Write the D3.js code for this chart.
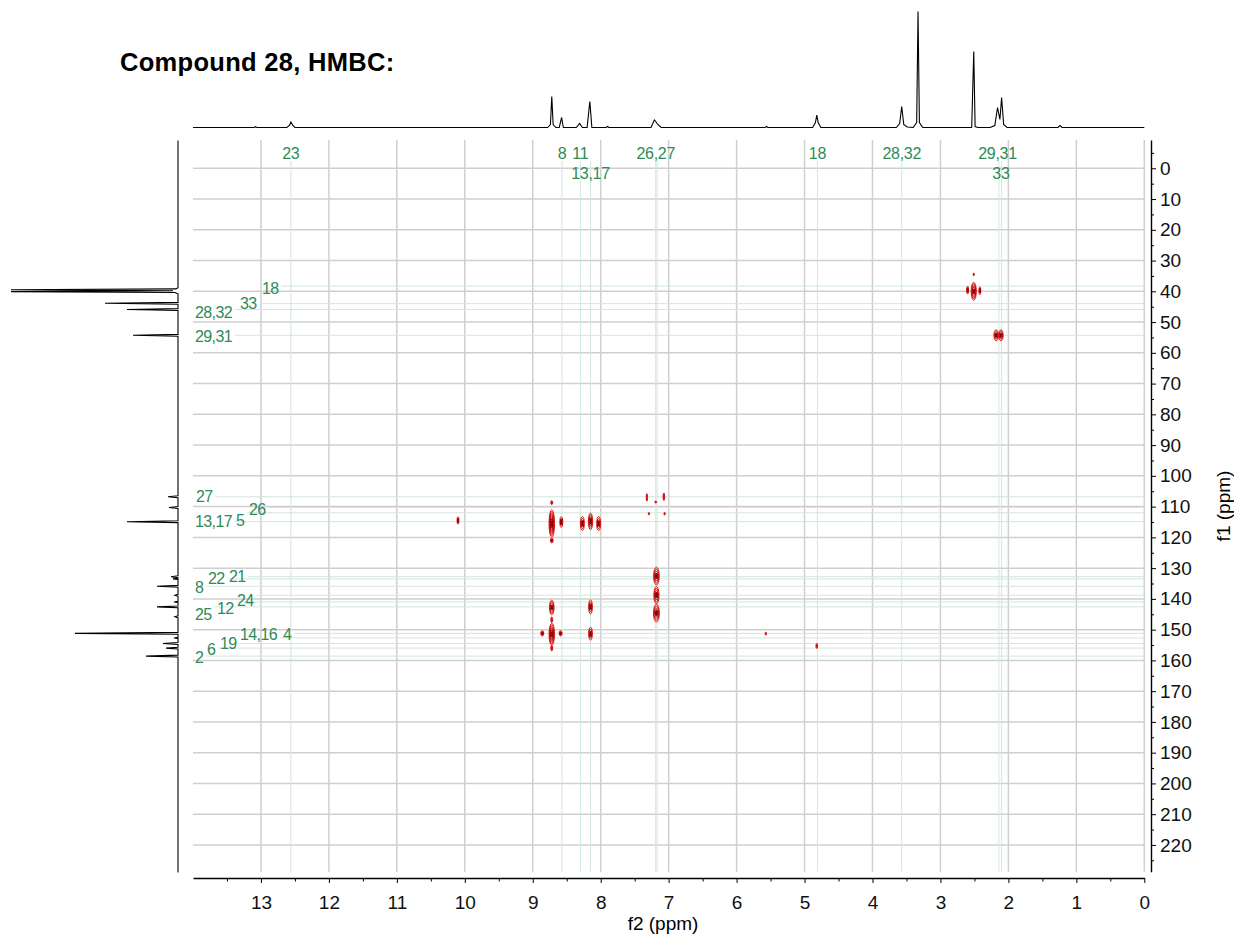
<!DOCTYPE html>
<html>
<head>
<meta charset="utf-8">
<script src="https://cdn.jsdelivr.net/npm/d3@7"></script>
<style>
  body { margin: 0; background: #fff; }
  svg { display: block; font-family: "Liberation Sans", Arial, sans-serif; }
</style>
</head>
<body>
<svg id="hmbc" width="1234" height="936"></svg>
<script>
// 1H trace along f2, [ppm, height]
var protonTrace = [
    [14, 0], [13.10, 0], [13.08, 0.8], [13.06, 0],
    [12.62, 0], [12.58, 2], [12.56, 5.5], [12.53, 2], [12.50, 0],
    [8.78, 0], [8.74, 3], [8.72, 31], [8.70, 3], [8.66, 0],
    [8.61, 0], [8.575, 10], [8.55, 0],
    [8.36, 0], [8.31, 4], [8.27, 0],
    [8.20, 0], [8.16, 26], [8.13, 0],
    [7.92, 0], [7.90, 1], [7.88, 0],
    [7.26, 0], [7.21, 7.5], [7.19, 6], [7.16, 3], [7.11, 0],
    [5.58, 0], [5.56, 1], [5.54, 0],
    [4.88, 0], [4.84, 5], [4.82, 12.5], [4.80, 5], [4.76, 0],
    [3.65, 0], [3.60, 4], [3.57, 21], [3.54, 3], [3.49, 0.5],
    [3.40, 0], [3.35, 5], [3.33, 116], [3.31, 5], [3.26, 0],
    [2.54, 0], [2.51, 76], [2.49, 1], [2.45, 0],
    [2.27, 0], [2.20, 2], [2.16, 20], [2.125, 8], [2.10, 30], [2.07, 3], [2.02, 0],
    [1.27, 0], [1.24, 2], [1.21, 0],
    [0, 0]
];

// 13C trace along f1, [ppm, height]
var carbonTrace = [
    [-9, 0], [38.8, 0], [39.2, 2], [39.5, 167], [39.8, 5], [40.1, 167], [40.4, 3], [40.8, 0],
    [43.6, 0], [43.9, 73], [44.2, 0],
    [45.6, 0], [45.9, 51], [46.2, 0],
    [54.0, 0], [54.3, 45], [54.6, 0],
    [106.5, 0], [106.8, 10], [107.1, 0],
    [110.0, 0], [110.3, 9], [110.6, 0],
    [114.6, 0], [114.9, 51], [115.2, 0],
    [132.5, 0], [132.8, 7], [133.1, 0],
    [133.3, 0], [133.5, 5], [133.7, 0],
    [135.6, 0], [135.9, 21], [136.2, 0],
    [138.5, 0], [138.8, 3], [139.1, 0],
    [140.8, 0], [141.0, 4], [141.2, 0],
    [142.3, 0], [142.6, 21], [142.9, 0],
    [145.5, 0], [145.8, 3], [146.1, 0],
    [150.9, 0], [151.2, 103], [151.5, 0],
    [152.5, 0], [152.7, 4], [152.9, 0],
    [154.2, 0], [154.5, 15], [154.8, 0],
    [155.7, 0], [156.0, 12], [156.3, 0],
    [158.3, 0], [158.6, 32], [158.9, 0],
    [229, 0]
];

// HMBC cross peaks: f2 shift, f1 shift, half width (ppm f2), half height (ppm f1), contour levels
var crossH  = [10.10, 8.72, 8.72, 8.72, 8.58, 8.27, 8.15, 8.03, 7.32, 7.19, 7.07, 7.29, 7.06,
               7.18, 7.18, 7.18, 8.72, 8.15, 8.72, 8.72, 8.72, 8.86, 8.59, 8.15, 5.57, 4.82,
               2.51, 2.51, 2.60, 2.42, 2.18, 2.11];
var crossC  = [114.5, 115.5, 108.7, 121.0, 115.0, 115.5, 114.8, 115.5, 107.0, 108.5, 106.8, 112.3, 112.3,
               132.6, 138.8, 144.6, 142.8, 142.6, 151.5, 146.8, 156.0, 151.2, 151.2, 151.3, 151.3, 155.3,
               34.5, 40.0, 39.6, 39.8, 54.3, 54.3];
var crossW  = [0.014, 0.04, 0.015, 0.02, 0.022, 0.03, 0.032, 0.03, 0.01, 0.014, 0.012, 0.01, 0.01,
               0.042, 0.038, 0.044, 0.034, 0.028, 0.04, 0.014, 0.014, 0.022, 0.022, 0.028, 0.01, 0.012,
               0.01, 0.038, 0.014, 0.014, 0.034, 0.034];
var crossHt = [1.2, 4.5, 0.6, 0.8, 1.8, 2.3, 2.7, 2.3, 1.2, 0.3, 1.2, 0.4, 0.4,
               2.9, 2.8, 2.9, 2.4, 2.3, 3.6, 0.9, 0.9, 0.9, 0.9, 2.1, 0.5, 0.8,
               0.4, 2.9, 1.3, 1.3, 1.8, 1.8];
var crossLv = [2, 7, 1, 2, 2, 3, 4, 3, 1, 1, 1, 1, 1,
               4, 4, 4, 4, 3, 6, 1, 1, 2, 2, 3, 1, 1,
               1, 5, 2, 2, 3, 3];

// assignments along f2 (top)
var hLabels = ["23", "8", "11", "13,17", "26,27", "18", "28,32", "29,31", "33"];
var hShift  = [12.56, 8.57, 8.30, 8.15, 7.19, 4.81, 3.57, 2.16, 2.11];
var hRow    = [0, 0, 0, 1, 0, 0, 0, 0, 1];
var hGuides = [12.56, 8.57, 8.30, 8.15, 7.19, 7.17, 4.81, 3.57, 2.14, 2.10];

// assignments along f1 (left)
var cLabels = ["18", "33", "28,32", "29,31", "27", "26", "5", "13,17", "21", "22", "8",
               "24", "12", "25", "4", "14,16", "19", "6", "2"];
var cShift  = [38.3, 44.0, 45.9, 54.3, 106.8, 110.3, 112.0, 114.9, 132.8, 133.5, 135.9,
               138.8, 141.0, 142.6, 151.2, 152.7, 154.5, 156.0, 158.6];

var f2Ticks = d3.range(0, 14);
var f1Ticks = d3.range(0, 221, 10);

// label nudges [dx from plot left, dy from shift], px
var cLabelNudge = [[69, 2], [47, 0], [2, 3], [2, 1], [3, 0], [56, 2], [43, 8], [2, 0], [36, 0], [15, 0], [2, 1],
                   [44, 5], [24, 6], [2, 8], [90, 1], [47, -4], [27, 0], [14, 1], [2, 1]];

var plot = { left: 193, right: 1144.3, top: 140, bottom: 871.7 };
var green = "#2e8b57";
var gridColor = "#cfcfcf";
var guideColor = "#d2e6dc";

var svg = d3.select("#hmbc");

var x = d3.scaleLinear().domain([14, 0]).range([plot.left, plot.right]);
var y = d3.scaleLinear().domain([-9.2, 228.7]).range([plot.top, plot.bottom]);
var topY = d3.scaleLinear().domain([0, 118]).range([127.5, 9.5]);
var leftX = d3.scaleLinear().domain([0, 168]).range([178, 10]);

// title
svg.append("text")
    .attr("x", 120)
    .attr("y", 70.5)
    .style("font-size", "25.5px")
    .style("font-weight", "bold")
    .style("letter-spacing", "0.3px")
    .text("Compound 28, HMBC:");

// grid
svg.append("g").selectAll("line")
    .data(d3.range(0, 14))
    .enter().append("line")
    .attr("x1", d => x(d)).attr("x2", d => x(d))
    .attr("y1", plot.top).attr("y2", plot.bottom)
    .attr("stroke", gridColor).attr("stroke-width", 1.5);

svg.append("g").selectAll("line")
    .data(f1Ticks)
    .enter().append("line")
    .attr("x1", plot.left).attr("x2", plot.right)
    .attr("y1", d => y(d)).attr("y2", d => y(d))
    .attr("stroke", gridColor).attr("stroke-width", 1.5);

// vertical guides for top assignments
svg.append("g").selectAll("line")
    .data(hGuides)
    .enter().append("line")
    .attr("x1", d => x(d)).attr("x2", d => x(d))
    .attr("y1", 161).attr("y2", plot.bottom)
    .attr("stroke", guideColor).attr("stroke-width", 1);

// top labels
svg.append("g").selectAll("text")
    .data(hLabels)
    .enter().append("text")
    .attr("x", (d, i) => x(hShift[i]))
    .attr("y", (d, i) => 153 + hRow[i] * 20)
    .attr("dy", "0.35em")
    .attr("text-anchor", "middle")
    .attr("fill", green)
    .style("font-size", "16px")
    .style("letter-spacing", "-0.3px")
    .text(d => d);

// left labels + horizontal guides
var cl = svg.append("g");
cLabels.forEach(function(t, i) {
    var ty = y(cShift[i]) + cLabelNudge[i][1];
    var txt = cl.append("text")
        .attr("x", plot.left + cLabelNudge[i][0])
        .attr("y", ty)
        .attr("dy", "0.35em")
        .attr("fill", green)
        .style("font-size", "16px")
        .style("letter-spacing", "-0.6px")
        .text(t);
    var end = plot.left + cLabelNudge[i][0] + txt.node().getComputedTextLength() + 3;
    cl.insert("line", "text")
        .attr("x1", end).attr("x2", plot.right)
        .attr("y1", y(cShift[i])).attr("y2", y(cShift[i]))
        .attr("stroke", guideColor).attr("stroke-width", 1);
});

// cross peaks as nested contour rings
var peaks = svg.append("g");
var ringColor = d3.interpolateRgb("#e41a1a", "#8c0000");
crossH.forEach(function(h, i) {
    var rx = Math.abs(x(h + crossW[i]) - x(h));
    var ry = Math.abs(y(crossC[i] + crossHt[i]) - y(crossC[i]));
    var n = crossLv[i];
    for (var k = 0; k < n; k++) {
        var f = 1 - k / (n + 0.5);
        peaks.append("ellipse")
            .attr("cx", x(h))
            .attr("cy", y(crossC[i]))
            .attr("rx", Math.max(rx * f, 0.5))
            .attr("ry", Math.max(ry * f, 0.6))
            .attr("fill", k == n - 1 ? ringColor(n > 1 ? 1 : 0.3) : "none")
            .attr("stroke", ringColor(n > 1 ? k / (n - 1) : 0.2))
            .attr("stroke-width", 1);
    }
});

// 1D traces
svg.append("path")
    .datum(protonTrace)
    .attr("fill", "none")
    .attr("stroke", "#000")
    .attr("stroke-width", 1.1)
    .attr("d", d3.line().x(d => x(d[0])).y(d => topY(d[1])));

svg.append("path")
    .datum(carbonTrace)
    .attr("fill", "none")
    .attr("stroke", "#000")
    .attr("stroke-width", 1.1)
    .attr("d", d3.line().x(d => leftX(d[1])).y(d => y(d[0])));

// bottom axis
svg.append("g")
    .attr("transform", "translate(0,878)")
    .call(d3.axisBottom(x).tickValues(f2Ticks).tickFormat(d3.format("d"))
        .tickSize(5).tickSizeOuter(0).tickPadding(13));
svg.append("g")
    .attr("transform", "translate(0,878)")
    .call(d3.axisBottom(x).tickValues(d3.range(0.5, 14, 1)).tickFormat("")
        .tickSize(3.5).tickSizeOuter(0))
    .select(".domain").remove();

// right axis
svg.append("g")
    .attr("transform", "translate(1151,0)")
    .call(d3.axisRight(y).tickValues(f1Ticks).tickFormat(d3.format("d"))
        .tickSize(5).tickSizeOuter(0).tickPadding(4));
svg.append("g")
    .attr("transform", "translate(1151,0)")
    .call(d3.axisRight(y).tickValues(d3.range(-5, 229, 10)).tickFormat("")
        .tickSize(3).tickSizeOuter(0))
    .select(".domain").remove();

svg.selectAll(".tick text")
    .style("font-size", "19px")
    .attr("fill", "#111");
svg.selectAll(".domain").attr("stroke-width", 1.4);

svg.append("text")
    .attr("x", 663)
    .attr("y", 930)
    .attr("text-anchor", "middle")
    .style("font-size", "19px")
    .text("f2 (ppm)");

svg.append("text")
    .attr("transform", "translate(1230,506) rotate(-90)")
    .attr("text-anchor", "middle")
    .style("font-size", "19px")
    .text("f1 (ppm)");
</script>
</body>
</html>
